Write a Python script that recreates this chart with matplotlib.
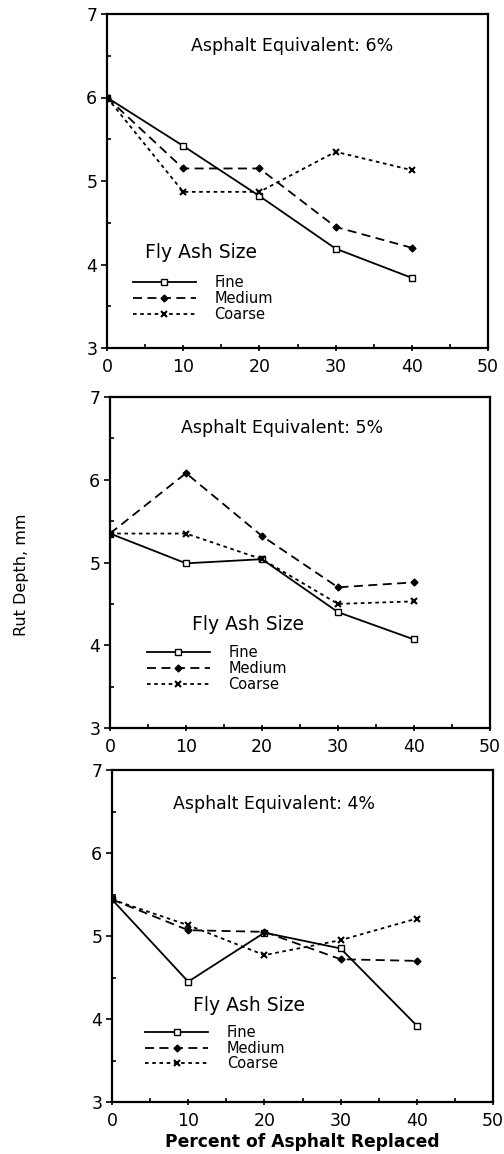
import matplotlib
matplotlib.use("Agg")
import matplotlib.pyplot as plt
from matplotlib.ticker import MultipleLocator

x_vals = [0, 10, 20, 30, 40]
series_names = ["Fine", "Medium", "Coarse"]
titles = ["Asphalt Equivalent: 6%", "Asphalt Equivalent: 5%", "Asphalt Equivalent: 4%"]

fine_6 = [6.00, 5.42, 4.82, 4.19, 3.84]
medium_6 = [6.00, 5.15, 5.15, 4.45, 4.20]
coarse_6 = [6.00, 4.87, 4.87, 5.35, 5.13]

fine_5 = [5.35, 4.99, 5.04, 4.40, 4.07]
medium_5 = [5.35, 6.08, 5.32, 4.70, 4.76]
coarse_5 = [5.35, 5.35, 5.04, 4.50, 4.53]

fine_4 = [5.44, 4.45, 5.04, 4.85, 3.92]
medium_4 = [5.44, 5.07, 5.05, 4.72, 4.70]
coarse_4 = [5.44, 5.13, 4.77, 4.95, 5.21]

x_ticks = [0, 10, 20, 30, 40, 50]
y_ticks = [3, 4, 5, 6, 7]

panels = [
    (fine_6, medium_6, coarse_6),
    (fine_5, medium_5, coarse_5),
    (fine_4, medium_4, coarse_4),
]

W, H = 504, 1154
fig = plt.figure(figsize=(W / 100, H / 100), dpi=100)
plt.rcParams['font.family'] = ['DejaVu Sans']

# axes boxes in pixels: left, top, right, bottom
boxes = [(107, 14, 488, 348), (110, 397, 490, 728), (112, 770, 493, 1102)]
title_pos = [(0.486, 0.903), (0.453, 0.905), (0.425, 0.897)]
legtitle_pos = [(0.10, 0.287), (0.216, 0.314), (0.213, 0.292)]
leg_pos = [(0.068, 0.218), (0.097, 0.250), (0.087, 0.232)]

styles = [
    dict(linestyle='-', marker='s', markersize=4, markerfacecolor='white', markeredgewidth=1.0),
    dict(linestyle=(0, (5, 3)), marker='D', markersize=3.5, markerfacecolor='black'),
    dict(linestyle=(0, (2, 2)), marker='x', markersize=4.5, markeredgewidth=1.5),
]

for i, (data, box) in enumerate(zip(panels, boxes)):
    l, t, r, b = box
    ax = fig.add_axes([l / W, 1 - b / H, (r - l) / W, (b - t) / H])
    for name, ys, st in zip(series_names, data, styles):
        ax.plot(x_vals, ys, color='black', linewidth=1.3, label=name, **st)
    ax.set_xlim(0, 50)
    ax.set_ylim(3, 7)
    ax.set_xticks(x_ticks)
    ax.set_yticks(y_ticks)
    ax.xaxis.set_minor_locator(MultipleLocator(5))
    ax.yaxis.set_minor_locator(MultipleLocator(0.5))
    ax.tick_params(axis='x', which='major', direction='inout', length=5, width=1.2, labelsize=12.5, pad=5)
    ax.tick_params(axis='x', which='minor', direction='in', length=3, width=1.2)
    ax.tick_params(axis='y', which='major', direction='out', length=4, width=1.2, labelsize=12.5, pad=3)
    ax.tick_params(axis='y', which='minor', direction='in', length=3, width=1.2)
    for s in ax.spines.values():
        s.set_linewidth(1.6)
    ax.text(title_pos[i][0], title_pos[i][1], titles[i], transform=ax.transAxes,
            ha='center', va='center', fontsize=12.5)
    ax.text(legtitle_pos[i][0], legtitle_pos[i][1], "Fly Ash Size", transform=ax.transAxes,
            ha='left', va='center', fontsize=13.5)
    ax.legend(loc='upper left', bbox_to_anchor=leg_pos[i], frameon=False, fontsize=10.5,
              handlelength=4.3, labelspacing=0.05, borderpad=0, borderaxespad=0,
              handletextpad=1.3)
    if i == 2:
        ax.set_xlabel("Percent of Asphalt Replaced", fontsize=12.3, fontweight='bold', labelpad=2)

fig.text(22 / W, 1 - 575 / H, "Rut Depth, mm", rotation=90, ha='center', va='center', fontsize=11.5)

fig.savefig("out.png", dpi=100)
